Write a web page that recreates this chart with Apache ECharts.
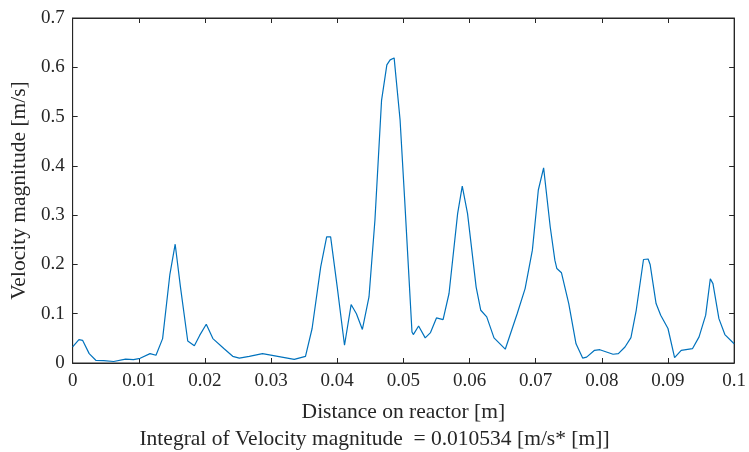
<!DOCTYPE html>
<html>
<head>
<meta charset="utf-8">
<script src="https://cdn.jsdelivr.net/npm/echarts@6/dist/echarts.min.js"></script>
<style>
html, body { margin: 0; padding: 0; background: #fff; }
#chart { width: 749px; height: 452px; }
</style>
</head>
<body>
<div id="chart"></div>
<script>
// distance on reactor [m]
var xs = [0, 0.00095, 0.0015, 0.0025, 0.0035, 0.0047, 0.0062, 0.008, 0.0092, 0.0102,
    0.0117, 0.0126, 0.0136, 0.0147, 0.0155, 0.0157, 0.0163, 0.0174, 0.0184, 0.0192,
    0.0202, 0.0212, 0.0229, 0.0242, 0.0252, 0.0267, 0.0287, 0.0335, 0.0352, 0.0362,
    0.0375, 0.0384, 0.039, 0.040, 0.0411, 0.0421, 0.0429, 0.0438, 0.0448, 0.0457,
    0.0467, 0.0475, 0.048, 0.0486, 0.0495, 0.0502, 0.0513, 0.0515, 0.0523, 0.0533,
    0.0541, 0.055, 0.056, 0.0569, 0.0582, 0.0589, 0.0597, 0.061, 0.0617, 0.0626,
    0.0637, 0.0654, 0.0672, 0.0684, 0.0695, 0.0704, 0.0712, 0.0722, 0.0729, 0.0732,
    0.0739, 0.075, 0.0761, 0.0771, 0.0777, 0.0789, 0.0797, 0.0817, 0.0825, 0.0835,
    0.0844, 0.0852, 0.0863, 0.087, 0.0873, 0.0882, 0.0889, 0.09, 0.091, 0.092,
    0.0937, 0.0947, 0.0957, 0.0964, 0.0968, 0.0977, 0.0986, 0.1];
// velocity magnitude [m/s]
var ys = [0.0325, 0.0475, 0.046, 0.019, 0.0055, 0.005, 0.003, 0.008, 0.007, 0.0095,
    0.019, 0.0157, 0.0495, 0.18, 0.241, 0.241, 0.154, 0.0447, 0.035, 0.056,
    0.0786, 0.0495, 0.029, 0.0136, 0.010, 0.0136, 0.019, 0.0075, 0.0136, 0.07,
    0.195, 0.256, 0.256, 0.154, 0.036, 0.1186, 0.100, 0.068, 0.134, 0.29,
    0.533, 0.605, 0.615, 0.619, 0.493, 0.33, 0.063, 0.0577, 0.075, 0.051,
    0.0617, 0.0914, 0.088, 0.141, 0.303, 0.359, 0.303, 0.154, 0.107, 0.0935,
    0.051, 0.028, 0.100, 0.151, 0.229, 0.351, 0.396, 0.276, 0.2086, 0.1917,
    0.183, 0.1206, 0.039, 0.010, 0.012, 0.0258, 0.027, 0.0177, 0.019, 0.0325,
    0.0516, 0.107, 0.21, 0.211, 0.2, 0.1206, 0.097, 0.07, 0.011, 0.0258,
    0.029, 0.053, 0.097, 0.171, 0.161, 0.09, 0.0577, 0.039];

var xTitle = 'Distance on reactor [m]';
var yTitle = 'Velocity magnitude [m/s]';
var note = 'Integral of Velocity magnitude  = 0.010534 [m/s* [m]]';

var points = xs.map(function (x, i) { return [x, ys[i]]; });

var font = 'Liberation Serif';
var ink = '#262626';

var chart = echarts.init(document.getElementById('chart'));

// mirror axes for the top and right edges of the box (ticks only)
function frameAxis(pos, min, max, interval) {
    return {
        type: 'value',
        position: pos,
        min: min,
        max: max,
        interval: interval,
        axisLine: { show: true, onZero: false, lineStyle: { color: ink, width: 1 } },
        axisTick: { show: true, inside: true, length: 5, lineStyle: { color: ink } },
        axisLabel: { show: false },
        splitLine: { show: false }
    };
}

chart.setOption({
    animation: false,
    backgroundColor: '#fff',
    title: {
        text: note,
        left: 'center',
        top: 423,
        textStyle: { fontFamily: font, fontSize: 21.5, fontWeight: 'normal', color: ink }
    },
    grid: {
        left: 70, right: 12, top: 18, bottom: 89,
        show: true, borderColor: ink, borderWidth: 1, backgroundColor: 'transparent'
    },
    xAxis: [{
        type: 'value',
        min: 0,
        max: 0.1,
        interval: 0.01,
        name: xTitle,
        nameLocation: 'middle',
        nameGap: 38,
        nameTextStyle: { fontFamily: font, fontSize: 21.5, color: ink },
        axisLine: { show: true, onZero: false, lineStyle: { color: ink, width: 1 } },
        axisTick: { show: true, inside: true, length: 5, lineStyle: { color: ink } },
        axisLabel: {
            fontFamily: font, fontSize: 19, color: ink, margin: 9,
            formatter: function (v) { return String(+v.toFixed(2)); }
        },
        splitLine: { show: false }
    }, frameAxis('top', 0, 0.1, 0.01)],
    yAxis: [{
        type: 'value',
        min: 0,
        max: 0.7,
        interval: 0.1,
        name: yTitle,
        nameLocation: 'middle',
        nameGap: 35,
        nameTextStyle: { fontFamily: font, fontSize: 21.5, color: ink },
        axisLine: { show: true, onZero: false, lineStyle: { color: ink, width: 1 } },
        axisTick: { show: true, inside: true, length: 5, lineStyle: { color: ink } },
        axisLabel: {
            fontFamily: font, fontSize: 19, color: ink, margin: 8,
            formatter: function (v) { return String(+v.toFixed(1)); }
        },
        splitLine: { show: false }
    }, frameAxis('right', 0, 0.7, 0.1)],
    series: [{
        // invisible copy on the mirror axes so they get drawn
        type: 'line',
        xAxisIndex: 1,
        yAxisIndex: 1,
        data: points,
        showSymbol: false,
        silent: true,
        lineStyle: { opacity: 0 }
    }, {
        type: 'line',
        data: points,
        showSymbol: false,
        smooth: false,
        lineStyle: { color: '#0072BD', width: 1.2 }
    }]
});
</script>
</body>
</html>
